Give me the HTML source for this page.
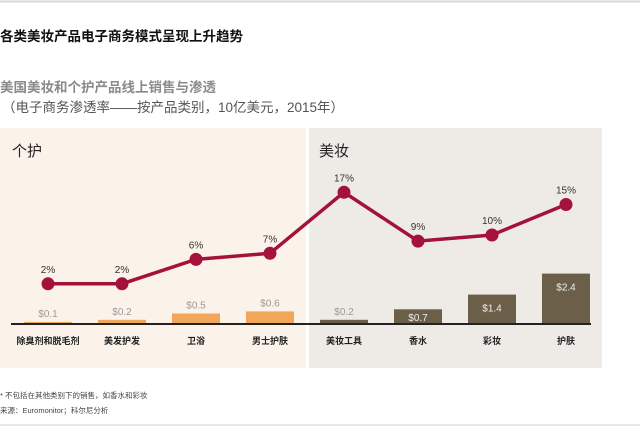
<!DOCTYPE html>
<html><head><meta charset="utf-8"><style>
body{margin:0;width:640px;height:426px;background:#fff;overflow:hidden;font-family:"Liberation Sans","Noto Sans CJK SC",sans-serif}
svg text{font-family:"Liberation Sans","Noto Sans CJK SC",sans-serif}
</style></head><body>
<svg id="c" width="640" height="426">
<line x1="0" y1="1.5" x2="640" y2="1.5" stroke="#d8d8d8" stroke-width="2"/>
<text x="0" y="41" font-size="13.5" font-weight="bold" fill="#111">各类美妆产品电子商务模式呈现上升趋势</text>
<text x="0" y="92" font-size="13.5" font-weight="bold" fill="#8a8a8a">美国美妆和个护产品线上销售与渗透</text>
<text x="2" y="112" font-size="13.5" fill="#555">（电子商务渗透率——按产品类别，10亿美元，2015年）</text>
<rect x="0" y="128" width="306" height="240" fill="#fbf3ea"/>
<rect x="309" y="128" width="293" height="240" fill="#eeebe7"/>
<text x="12" y="156" font-size="15" fill="#222">个护</text>
<text x="319" y="156" font-size="15" fill="#222">美妆</text>
<g id="marks"></g>
<line x1="11" y1="324" x2="591" y2="324" stroke="#222" stroke-width="2"/>
<text x="0" y="398" font-size="7.5" fill="#444">* 不包括在其他类别下的销售，如香水和彩妆</text>
<text x="0" y="413" font-size="7.5" fill="#444">来源：Euromonitor；科尔尼分析</text>
<line x1="0" y1="425" x2="640" y2="425" stroke="#d0d0d0" stroke-width="1"/>
</svg>
<script>
const categories=["除臭剂和脱毛剂","美发护发","卫浴","男士护肤","美妆工具","香水","彩妆","护肤"];
const sales=[0.1,0.2,0.5,0.6,0.2,0.7,1.4,2.4];
const salesLabels=["$0.1","$0.2","$0.5","$0.6","$0.2","$0.7","$1.4","$2.4"];
const penetration=[2,2,6,7,17,9,10,15];
const groups=["care","care","care","care","beauty","beauty","beauty","beauty"];
const NS="http://www.w3.org/2000/svg";
const g=document.getElementById('marks');
const xc=i=>48+i*74;
const yBar=v=>324-v*21;
const yPct=p=>296-p*6.1;
function mk(t,a){const e=document.createElementNS(NS,t);for(const k in a)e.setAttribute(k,a[k]);g.appendChild(e);return e;}
categories.forEach((c,i)=>{
 const top=yBar(sales[i]);
 const r=mk('rect',{x:xc(i)-24,y:top,width:48,height:324-top,fill:groups[i]=="care"?"#f2a65a":"#6b5f4a"});
 
 
 const inside=groups[i]=="beauty"&&(324-top)>12;
 const t=mk('text',{x:xc(i),y:inside?Math.min(top+17,321):top-5,'font-size':10,'text-anchor':'middle',fill:inside?"#eee":"#9a9a9a"});
 t.textContent=salesLabels[i];
 
 
 const l=mk('text',{x:xc(i),y:344,'font-size':9,'font-weight':'bold','text-anchor':'middle',fill:"#222"});
 l.textContent=c;
 
 
});
const pl=mk('polyline',{points:penetration.map((p,i)=>xc(i)+','+yPct(p)).join(' '),fill:'none',stroke:'#a4123c','stroke-width':3.5});


penetration.forEach((p,i)=>{
 const c=mk('circle',{cx:xc(i),cy:yPct(p),r:6.5,fill:'#a4123c'});
 
 
 const t=mk('text',{x:xc(i),y:yPct(p)-11,'font-size':10,'text-anchor':'middle',fill:'#333'});
 t.textContent=p+'%';
 
 
});
</script>
</body></html>
